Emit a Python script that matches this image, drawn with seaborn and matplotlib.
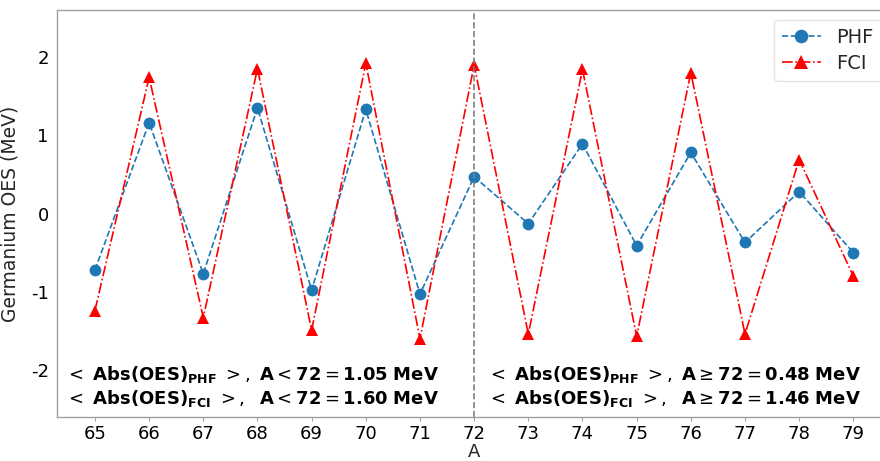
import numpy as np
import pandas as pd
import matplotlib
matplotlib.use("Agg")
import matplotlib.pyplot as plt
import seaborn as sns

# Mass numbers and odd-even staggering values (MeV)
mass_numbers = [65, 66, 67, 68, 69, 70, 71, 72, 73, 74, 75, 76, 77, 78, 79]
oes_phf = [-0.72, 1.16, -0.77, 1.35, -0.98, 1.33, -1.03,
           0.47, -0.13, 0.89, -0.41, 0.78, -0.37, 0.28, -0.50]
oes_fci = [-1.24, 1.74, -1.33, 1.85, -1.49, 1.92, -1.60,
           1.90, -1.54, 1.84, -1.57, 1.80, -1.54, 0.69, -0.80]
split_at = 72
y_ticks = [-2, -1, 0, 1, 2]

df = pd.DataFrame({"A": mass_numbers, "PHF": oes_phf, "FCI": oes_fci})
low = df[df["A"] < split_at]
high = df[df["A"] >= split_at]
mean_phf_low = low["PHF"].abs().mean()
mean_fci_low = low["FCI"].abs().mean()
mean_phf_high = high["PHF"].abs().mean()
mean_fci_high = high["FCI"].abs().mean()

sns.set_style("white")
plt.rcParams["font.family"] = ["DejaVu Sans"]
plt.rcParams["axes.unicode_minus"] = False
plt.rcParams["mathtext.fontset"] = "dejavusans"

spine_col = "#a0a0a0"
fig = plt.figure(figsize=(8.8, 4.61), dpi=100)
ax = fig.add_axes([0.0648, 0.0954, 0.948, 0.8829])

sns.lineplot(data=df, x="A", y="PHF", ax=ax, color="#1f77b4", linestyle="--",
             linewidth=1.2, marker="o", markersize=8.5,
             markeredgecolor="#1f77b4", markeredgewidth=0, label="PHF")
sns.lineplot(data=df, x="A", y="FCI", ax=ax, color="red", linestyle="-.",
             linewidth=1.2, marker="^", markersize=9,
             markeredgecolor="red", markeredgewidth=0, label="FCI")

ax.axvline(split_at, color="gray", linestyle="--", linewidth=1.2)

ax.set_xlim(64.3, 79.7)
ax.set_ylim(-2.6, 2.6)
ax.set_xticks(mass_numbers)
ax.set_xticklabels([str(a) for a in mass_numbers])
ax.set_yticks(y_ticks)
ax.set_yticklabels([str(t) for t in y_ticks])
ax.tick_params(axis="both", labelsize=13, colors="black", length=3,
               color=spine_col, bottom=True, left=False, pad=3)
ax.set_xlabel("A", fontsize=13, labelpad=0)
ax.set_ylabel("Germanium OES (MeV)", fontsize=13.5, labelpad=8)
for s in ax.spines.values():
    s.set_color(spine_col)
    s.set_linewidth(1.0)

leg = ax.legend(loc="upper right", fontsize=14, frameon=True, handlelength=2.0,
                borderpad=0.4, labelspacing=0.4, markerscale=1.15)
leg.get_frame().set_edgecolor("#dddddd")

txt_kw = dict(fontsize=13, ha="left", va="center", color="black")
ax.text(64.45, -2.06,
        r"$<\ \mathbf{Abs(OES)}_{\mathbf{PHF}}\ >,\ \mathbf{A}<\mathbf{%d}=\mathbf{%.2f\ MeV}$"
        % (split_at, mean_phf_low), **txt_kw)
ax.text(64.45, -2.36,
        r"$<\ \mathbf{Abs(OES)}_{\mathbf{FCI}}\ >,\ \ \mathbf{A}<\mathbf{%d}=\mathbf{%.2f\ MeV}$"
        % (split_at, mean_fci_low), **txt_kw)
ax.text(72.24, -2.06,
        r"$<\ \mathbf{Abs(OES)}_{\mathbf{PHF}}\ >,\ \mathbf{A}\geq\mathbf{%d}=\mathbf{%.2f\ MeV}$"
        % (split_at, mean_phf_high), **txt_kw)
ax.text(72.24, -2.36,
        r"$<\ \mathbf{Abs(OES)}_{\mathbf{FCI}}\ >,\ \ \mathbf{A}\geq\mathbf{%d}=\mathbf{%.2f\ MeV}$"
        % (split_at, mean_fci_high), **txt_kw)

fig.savefig("out.png", dpi=100)
